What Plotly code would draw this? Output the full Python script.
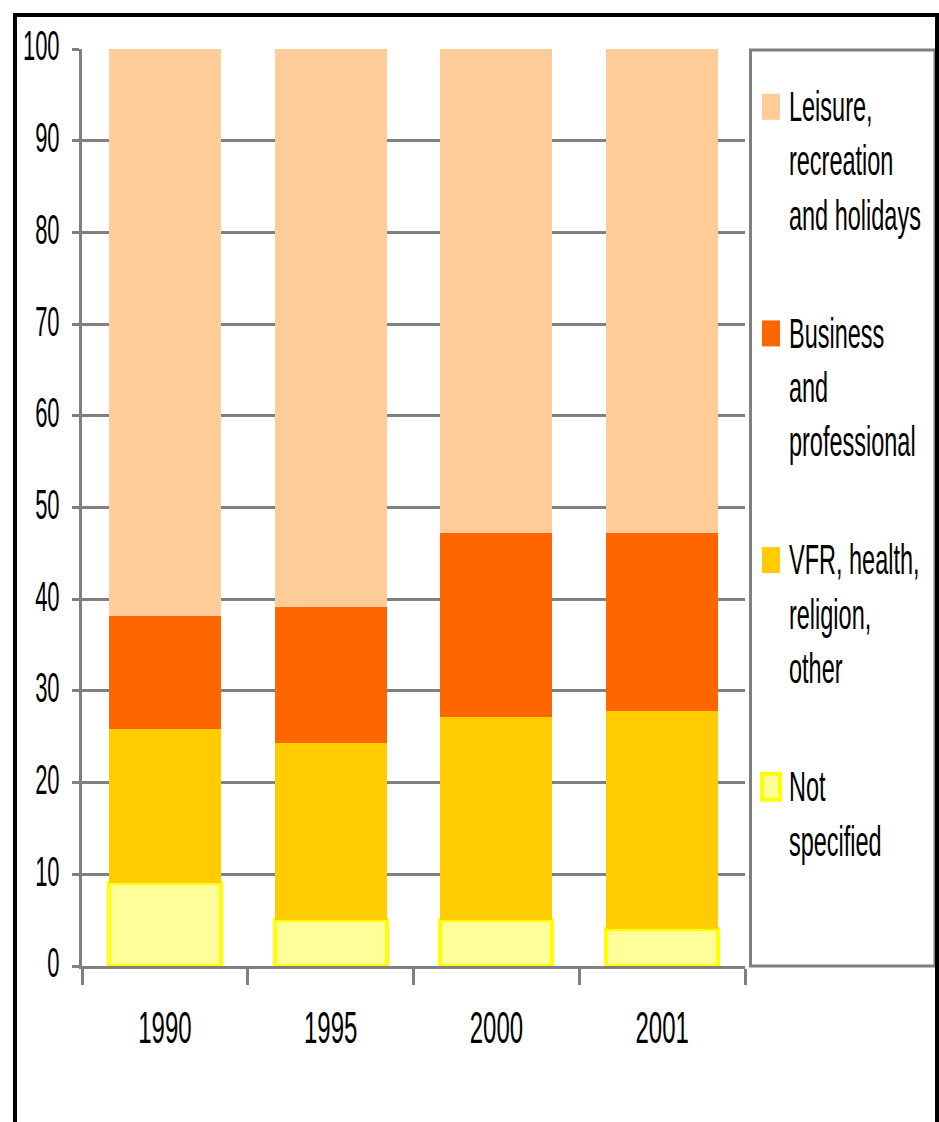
import plotly.graph_objects as go

years = ["1990", "1995", "2000", "2001"]
not_specified = [9.0, 5.0, 5.0, 4.0]
vfr_health = [16.8, 19.3, 22.2, 23.8]
business = [12.4, 14.9, 20.0, 19.4]
leisure = [61.8, 60.8, 52.8, 52.8]

series_names = [
    "Not<br>specified",
    "VFR, health,<br>religion,<br>other",
    "Business<br>and<br>professional",
    "Leisure,<br>recreation<br>and holidays",
]
series_values = [not_specified, vfr_health, business, leisure]
series_fill = ["#FFFF99", "#FFCC00", "#FF6600", "#FFCC99"]
series_line = ["#FFFF00", "#FFCC00", "#FF6600", "#FFCC99"]
series_linew = [4, 0, 0, 0]
legend_rank = [4, 3, 2, 1]

FONT = "Liberation Sans, Arial, sans-serif"
GRAY = "#808080"

fig = go.Figure()
for i, (name, vals) in enumerate(zip(series_names, series_values)):
    fig.add_trace(go.Bar(
        x=years, y=vals, name=name,
        legendgroup=f"g{i}", legendrank=legend_rank[i],
        marker=dict(color=series_fill[i],
                    line=dict(color=series_line[i], width=series_linew[i])),
    ))

# pixel -> paper helpers (plot area: x 82..745, y 49..966)
L, R, T, B = 82, 745, 49, 966
def px(x):
    return (x - L) / (R - L)
def py(y):
    return (B - y) / (B - T)

shapes = [
    # legend box
    dict(type="rect", xref="paper", yref="paper",
         x0=px(750.5), x1=px(935), y0=py(966), y1=py(50),
         line=dict(color=GRAY, width=3), fillcolor="rgba(0,0,0,0)"),
    # outer black frame
    dict(type="line", xref="paper", yref="paper",
         x0=px(13), x1=px(939), y0=py(15), y1=py(15),
         line=dict(color="black", width=4)),
    dict(type="line", xref="paper", yref="paper",
         x0=px(15), x1=px(15), y0=py(13), y1=py(1130),
         line=dict(color="black", width=4)),
    dict(type="line", xref="paper", yref="paper",
         x0=px(937), x1=px(937), y0=py(13), y1=py(1130),
         line=dict(color="black", width=4)),
]

fig.update_layout(
    width=939, height=1122,
    margin=dict(l=L, r=939 - R, t=T, b=1122 - B, pad=0, autoexpand=False),
    paper_bgcolor="white", plot_bgcolor="white",
    barmode="stack", bargap=0.324,
    font=dict(family=FONT, color="black", size=23.5),
    shapes=shapes,
    showlegend=True,
    legend=dict(
        x=px(749), y=py(85), xanchor="left", yanchor="top",
        traceorder="grouped", tracegroupgap=132,
        font=dict(family=FONT, size=23.5, color="black"),
        bgcolor="rgba(0,0,0,0)", borderwidth=0, valign="top",
    ),
    xaxis=dict(
        type="category", tickson="boundaries",
        ticks="outside", ticklen=16, tickwidth=3, tickcolor=GRAY,
        showline=True, linecolor=GRAY, linewidth=3,
        showgrid=False, ticklabelstandoff=38,
        tickfont=dict(family=FONT, size=24, color="black"),
    ),
    yaxis=dict(
        range=[0, 100], dtick=10, tick0=0,
        ticks="outside", ticklen=7, tickwidth=3, tickcolor=GRAY,
        showline=True, linecolor=GRAY, linewidth=3,
        showgrid=True, gridcolor=GRAY, gridwidth=3,
        zeroline=False, ticklabelstandoff=8,
        tickfont=dict(family=FONT, size=22, color="black"),
    ),
)

# The original chart uses tall, condensed lettering: stretch the rendered
# text vertically (it stays real SVG text). Also drop the page's body margin
# and draw the legend swatches at the original's larger size.
post_script = """
document.body.style.margin = '0';
var gd = document.getElementById('{plot_id}');
function stretch(sel, k, firstLine, dy) {
  gd.querySelectorAll(sel).forEach(function (t) {
    var bb = t.getBBox();
    if (!bb || bb.height === 0) return;
    var n = t.querySelectorAll('tspan.line').length || 1;
    var cy = firstLine ? bb.y + bb.height / n / 2 : bb.y + bb.height / 2;
    var old = t.getAttribute('transform') || '';
    t.setAttribute('transform', old + ' translate(0,' + (cy + dy) + ') scale(1,' + k +
                   ') translate(0,' + (-cy) + ')');
  });
}
stretch('.xtick text', 1.85, false, 0);
stretch('.ytick text', 1.9, false, -3);
stretch('.legendtext', 1.78, true, 0);
gd.querySelectorAll('.legend .scrollbox').forEach(function (s) {
  s.removeAttribute('clip-path');
});
gd.querySelectorAll('.legend .legendpoints path').forEach(function (p) {
  p.setAttribute('d', 'M11,13H-7V-13H11Z');
});
"""

fig.write_html("out.html", post_script=post_script,
               config={"displayModeBar": False})
